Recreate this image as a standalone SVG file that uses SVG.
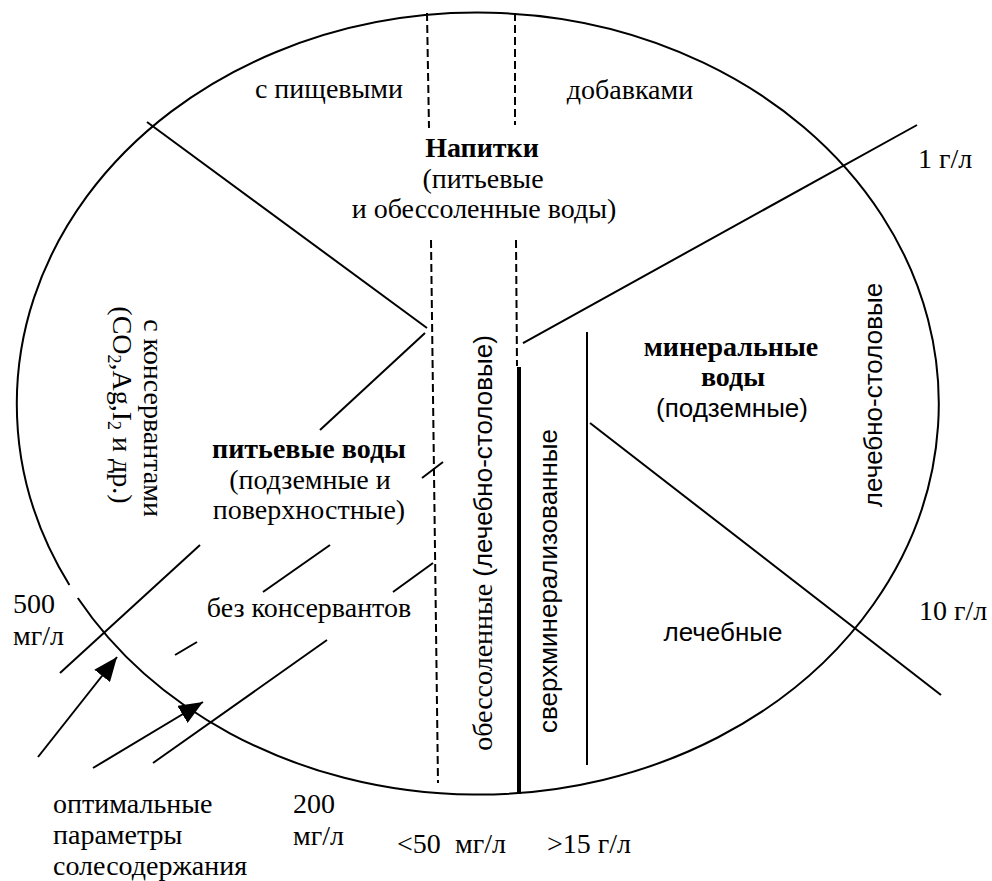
<svg xmlns="http://www.w3.org/2000/svg" width="992" height="881" viewBox="0 0 992 881">
<style>
.ln{stroke:#000;stroke-width:2;fill:none;stroke-linecap:butt}
.ds{stroke:#000;stroke-width:2;fill:none;stroke-dasharray:8 4}
.s{font-family:"Liberation Serif","Times New Roman",serif;font-size:28px;fill:#000}
.b{font-weight:bold}
.a{font-family:"Liberation Sans",Arial,sans-serif;font-size:26px;fill:#000}
.m{text-anchor:middle}
</style>
<defs>
<marker id="ah" viewBox="0 0 24 20" refX="24" refY="10" markerWidth="24" markerHeight="20" markerUnits="userSpaceOnUse" orient="auto">
<path d="M0,0 L24,10 L0,20 z" fill="#000"/>
</marker>
</defs>
<rect width="992" height="881" fill="#fff"/>
<g id="ellipse">
<path class="ln" d="M77.8,598 A461,391 0 1 0 69.4,585"/>
</g>
<g id="connectors">
<line class="ds" x1="427" y1="13" x2="429" y2="128"/>
<line class="ds" x1="431" y1="240" x2="438" y2="783"/>
<line class="ds" x1="515" y1="13" x2="515" y2="125"/>
<line class="ds" x1="516" y1="240" x2="517" y2="366"/>
<line x1="519" y1="367" x2="519" y2="794" stroke="#000" stroke-width="4"/>
<line class="ln" x1="587" y1="332" x2="587" y2="765"/>
<line class="ln" x1="147" y1="122" x2="427" y2="328"/>
<line class="ln" x1="425" y1="333" x2="320" y2="430"/>
<line class="ln" x1="200" y1="545" x2="60" y2="673"/>
<line class="ln" x1="422" y1="478" x2="443" y2="462"/>
<line class="ln" x1="330" y1="545" x2="263" y2="592"/>
<line class="ln" x1="197" y1="642" x2="175" y2="655"/>
<line class="ln" x1="433" y1="563" x2="393" y2="592"/>
<line class="ln" x1="327" y1="640" x2="153" y2="763"/>
<line class="ln" x1="523" y1="343" x2="917" y2="125"/>
<line class="ln" x1="590" y1="423" x2="941" y2="695"/>
<line class="ln" x1="38" y1="757" x2="117" y2="657" marker-end="url(#ah)"/>
<line class="ln" x1="93" y1="768" x2="203" y2="702" marker-end="url(#ah)"/>
</g>
<g id="top">
<text class="s m" x="329" y="98">с пищевыми</text>
<text class="s m" x="630" y="99">добавками</text>
<text class="s m b" x="482" y="157">Напитки</text>
<text class="s m" x="483" y="188">(питьевые</text>
<text class="s m" x="484" y="218">и обессоленные воды)</text>
<text class="s" x="918" y="168">1 г/л</text>
</g>
<g id="left">
<text class="s m" transform="translate(144,418) rotate(90)">с консервантами</text>
<text class="s m" transform="translate(113,405) rotate(90)">(CO<tspan font-size="18" dy="5">2</tspan><tspan dy="-5">,Ag,I</tspan><tspan font-size="18" dy="5">2</tspan><tspan dy="-5"> и др.)</tspan></text>
<text class="s m b" x="309" y="458">питьевые воды</text>
<text class="s m" x="310" y="489">(подземные и</text>
<text class="s m" x="309" y="519">поверхностные)</text>
<text class="s m" x="309" y="617">без консервантов</text>
<text class="s" x="13" y="613">500</text>
<text class="s" x="13" y="645">мг/л</text>
</g>
<g id="bottom">
<text class="s" x="53" y="813">оптимальные</text>
<text class="s" x="53" y="844">параметры</text>
<text class="s" x="53" y="875">солесодержания</text>
<text class="s" x="293" y="813">200</text>
<text class="s" x="293" y="845">мг/л</text>
<text class="s" x="397" y="853">&lt;50</text>
<text class="s" x="455" y="853">мг/л</text>
<text class="s" x="547" y="853">&gt;15 г/л</text>
</g>
<g id="center">
<text class="m" transform="translate(492,543) rotate(-90)"><tspan class="s">обессоленные </tspan><tspan class="a">(лечебно-столовые)</tspan></text>
<text class="a m" transform="translate(557,581) rotate(-90)">сверхминерализованные</text>
</g>
<g id="right">
<text class="s m b" x="731" y="356">минеральные</text>
<text class="s m b" x="733" y="386">воды</text>
<text class="a m" x="732" y="417">(подземные)</text>
<text class="a m" transform="translate(882,395) rotate(-90)">лечебно-столовые</text>
<text class="a m" x="723" y="641">лечебные</text>
<text class="s" x="919" y="620">10 г/л</text>
</g>
</svg>
